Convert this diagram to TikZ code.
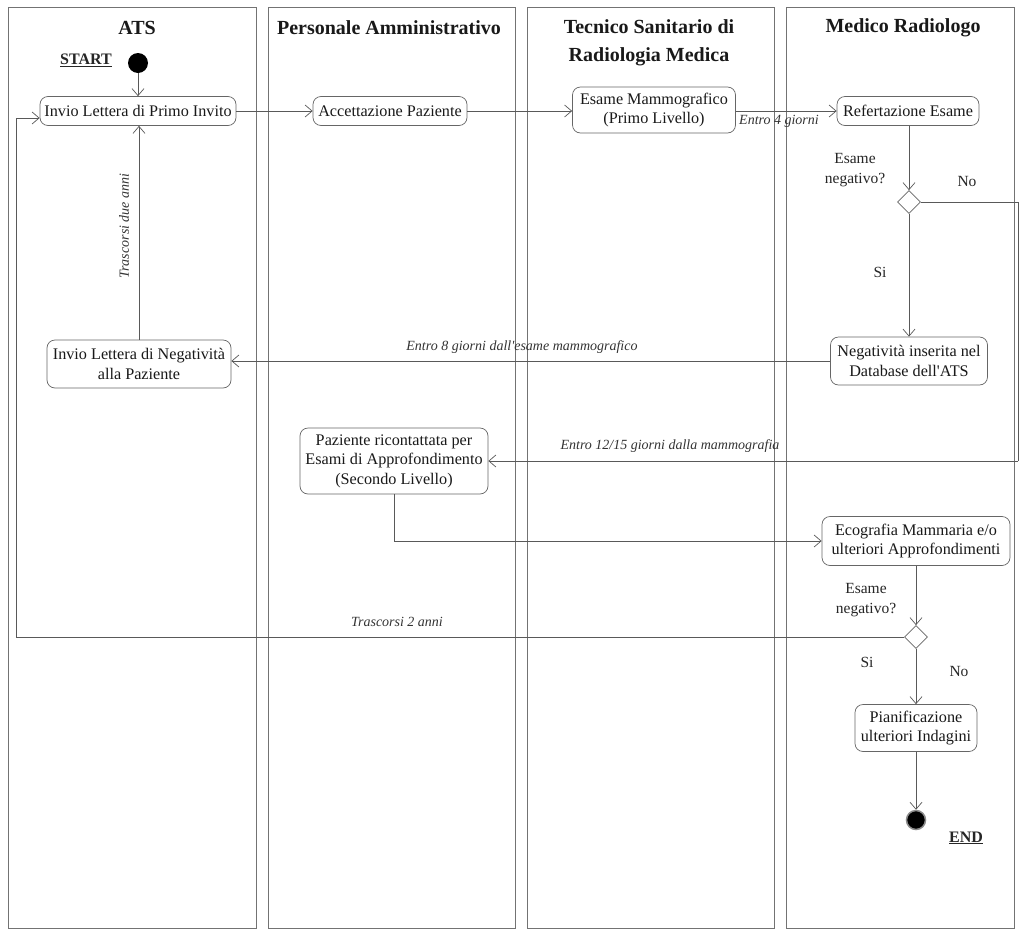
\documentclass[tikz,border=0pt]{standalone}
\usepackage{fontspec}
\setmainfont{Liberation Serif}
\usetikzlibrary{arrows.meta,shapes.geometric}
\begin{document}
\begin{tikzpicture}[x=1pt,y=-1pt,
  lane/.style={draw=black!55,line width=0.8pt},
  hdr/.style={font=\fontsize{20}{28}\selectfont\bfseries,align=center,text=black!90},
  act/.style={draw=black!60,line width=0.7pt,rounded corners=8pt,align=center,
    font=\fontsize{16.2}{19.5}\selectfont,inner sep=2pt,text=black!90},
  dec/.style={draw=black!60,line width=0.7pt,diamond,minimum width=23pt,minimum height=23pt,inner sep=0pt},
  conn/.style={draw=black!65,line width=0.7pt,-{Straight Barb[length=7pt,width=12pt]}},
  line/.style={draw=black!65,line width=0.7pt},
  lbl/.style={font=\fontsize{14}{16}\selectfont\itshape,text=black!80},
  guard/.style={font=\fontsize{15.5}{20}\selectfont,align=center,text=black!85},
  term/.style={font=\fontsize{16}{18}\selectfont\bfseries,text=black!85}
]
\useasboundingbox[fill=white] (0,0) rectangle (1021,948);
% lanes
\draw[lane] (8,7) rectangle (256,928);
\draw[lane] (268,7) rectangle (515,928);
\draw[lane] (527,7) rectangle (774,928);
\draw[lane] (786,7) rectangle (1014,928);
\node[hdr] (h1) at (137,28) {ATS};
\node[hdr] (h2) at (389,28) {Personale Amministrativo};
\node[hdr] (h3) at (649,43) {Tecnico Sanitario di\\Radiologia Medica};
\node[hdr] (h4) at (903,28) {Medico Radiologo};
% nodes
\node[circle,fill=black,minimum size=20pt,inner sep=0pt] (start) at (138,63) {};
\node[term] (startlbl) at (86,60) {\underline{START}};
\node[act,minimum width=196pt,minimum height=29pt] (n1) at (138,111) {Invio Lettera di Primo Invito};
\node[act,minimum width=154pt,minimum height=29pt] (n2) at (390,111) {Accettazione Paziente};
\node[act,minimum width=163pt,minimum height=46pt] (n3) at (654,110) {Esame Mammografico\\(Primo Livello)};
\node[act,minimum width=142pt,minimum height=29pt] (n4) at (908,111) {Refertazione Esame};
\node[dec] (d1) at (909,202) {};
\node[act,minimum width=157pt,minimum height=48pt] (n5) at (909,361) {Negatività inserita nel\\Database dell\textquotesingle ATS};
\node[act,minimum width=184pt,minimum height=48pt] (n6) at (139,364) {Invio Lettera di Negatività\\alla Paziente};
\node[act,minimum width=188pt,minimum height=66pt] (n7) at (394,461) {Paziente ricontattata per\\Esami di Approfondimento\\(Secondo Livello)};
\node[act,minimum width=188pt,minimum height=49pt] (n8) at (916,541) {Ecografia Mammaria e/o\\ulteriori Approfondimenti};
\node[dec] (d2) at (916,637) {};
\node[act,minimum width=122pt,minimum height=47pt] (n9) at (916,728) {Pianificazione\\ulteriori Indagini};
\node[circle,fill=black,draw=black!45,line width=1.5pt,minimum size=19pt,inner sep=0pt] (end) at (916,820) {};
\node[term] (endlbl) at (966,838) {\underline{END}};
% guards
\node[guard] (g1) at (855,170) {Esame\\negativo?};
\node[guard] (g1no) at (967,181) {No};
\node[guard] (g1si) at (880,272) {Si};
\node[guard] (g2) at (866,600) {Esame\\negativo?};
\node[guard] (g2si) at (867,662) {Si};
\node[guard] (g2no) at (959,671) {No};
% coordinates
\coordinate (c1) at (1018,202);
\coordinate (c2) at (1018,461);
\coordinate (c3) at (394,541);
\coordinate (c4) at (16,637);
\coordinate (c5) at (16,118);
% connectors
\draw[conn] (start) -- (n1);
\draw[conn] (n1.east) -- (n2.west);
\draw[conn] (n2.east) -- (n3.west |- n2.east);
\draw[conn] (n3.east |- n4.west) -- (n4.west);
\node[lbl] (l1) at (779,121) {Entro 4 giorni};
\draw[conn] (n4.south -| d1.north) -- (d1.north);
\draw[line] (d1.east) -- (c1) -- (c2);
\draw[conn] (c2) -- (n7.east);
\node[lbl] (l2) at (670,446) {Entro 12/15 giorni dalla mammografia};
\draw[conn] (d1.south) -- (n5.north);
\draw[conn] (n5.west) -- (n5.west -| n6.east);
\node[lbl] (l3) at (522,347) {Entro 8 giorni dall\textquotesingle esame mammografico};
\draw[conn] (n6.north) -- (n6.north |- n1.south);
\node[lbl,rotate=90] (l4) at (124,226) {Trascorsi due anni};
\draw[line] (n7.south) -- (c3);
\draw[conn] (c3) -- (c3 -| n8.west);
\draw[conn] (n8.south -| d2.north) -- (d2.north);
\draw[line] (d2.west) -- (c4) -- (c5);
\draw[conn] (c5) -- (c5 -| n1.west);
\node[lbl] (l5) at (397,622) {Trascorsi 2 anni};
\draw[conn] (d2.south -| n9.north) -- (n9.north);
\draw[conn] (n9.south) -- (end.north);
\end{tikzpicture}
\end{document}
